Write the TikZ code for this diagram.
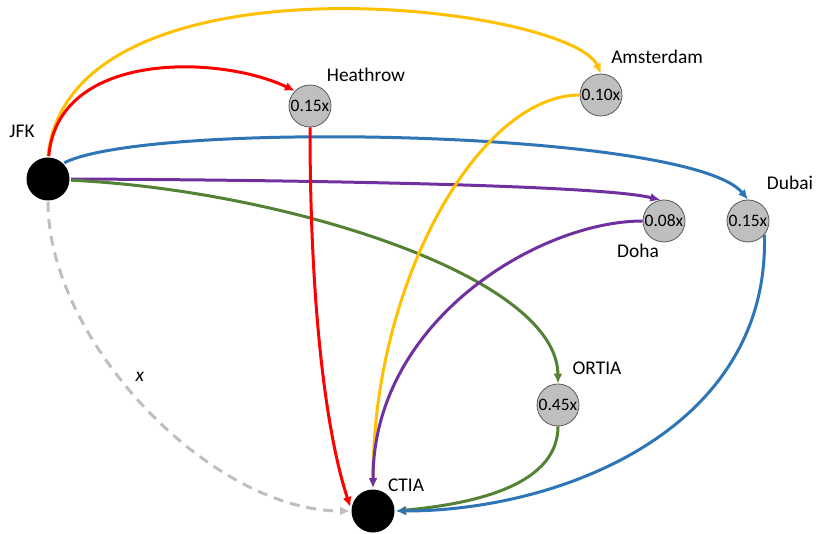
\documentclass[tikz,border=0pt]{standalone}
\usepackage{fontspec}
\setmainfont{Carlito}
\usetikzlibrary{arrows.meta}

\definecolor{goldline}{HTML}{FFC000}
\definecolor{redline}{HTML}{FF0000}
\definecolor{blueline}{HTML}{2E75B6}
\definecolor{purpleline}{HTML}{7030A0}
\definecolor{greenline}{HTML}{548235}
\definecolor{directline}{HTML}{BFBFBF}

\begin{document}
\begin{tikzpicture}[x=1pt, y=-1pt, >={Latex[length=10pt,width=9pt]}, line width=3pt]
    \tikzstyle{hub} = [circle, fill=black, inner sep=0pt, minimum size=43pt]
    \tikzstyle{transit} = [circle, draw=black!65, line width=0.8pt, fill=black!25,
    inner sep=0pt, minimum size=42pt, font=\fontsize{17.5}{19}\selectfont]
    \tikzstyle{place} = [inner sep=0pt, font=\fontsize{19.4}{22}\selectfont]

    \useasboundingbox (0,0) rectangle (821,534);

    \node [hub] (jfk) at (48,179) {};
    \node [hub] (ctia) at (373,511) {};
    \node [transit] (heathrow) at (310,106) {0.15x};
    \node [transit] (amsterdam) at (601,95) {0.10x};
    \node [transit] (doha) at (664,221) {0.08x};
    \node [transit] (dubai) at (748,221) {0.15x};
    \node [transit] (ortia) at (558,405) {0.45x};

    \node [place] (jfklabel) at (22,131) {JFK};
    \node [place] (ctialabel) at (406,485) {CTIA};
    \node [place] (heathrowlabel) at (366,75) {Heathrow};
    \node [place] (amsterdamlabel) at (657,57) {Amsterdam};
    \node [place] (dohalabel) at (638,251) {Doha};
    \node [place] (dubailabel) at (790,183) {Dubai};
    \node [place] (ortialabel) at (597,368) {ORTIA};
    \node [place] (xlabel) at (140,377) {\textit{x}};

    % direct route
    \draw [->, directline, dash pattern=on 10pt off 7pt] (jfk.south) .. controls (48,340) and (210,511) .. (ctia.west);

    % first legs
    \draw [->, goldline] (jfk.north) .. controls (70,-55) and (570,5) .. (amsterdam.north);
    \draw [->, redline] (jfk.88) .. controls (58,50) and (220,55) .. (heathrow.north west);
    \draw [->, blueline] (jfk.north east) .. controls (150,120) and (690,130) .. (dubai.north);
    \draw [->, purpleline] (jfk.east) .. controls (300,180) and (600,185) .. (doha.100);
    \draw [->, greenline] (jfk.-3) .. controls (280,190) and (557,275) .. (ortia.north);

    % second legs
    \draw [->, redline] (heathrow.south) .. controls (310,300) and (325,430) .. (ctia.170);
    \draw [->, goldline] (amsterdam.west) .. controls (480,95) and (373,280) .. (ctia.north);
    \draw [->, purpleline] (doha.west) .. controls (540,221) and (373,320) .. (ctia.north);
    \draw [->, greenline] (ortia.south) .. controls (558,490) and (460,505) .. (ctia.east);
    \draw [->, blueline] (dubai.-40) .. controls (770,430) and (560,511) .. (ctia.east);
\end{tikzpicture}
\end{document}
